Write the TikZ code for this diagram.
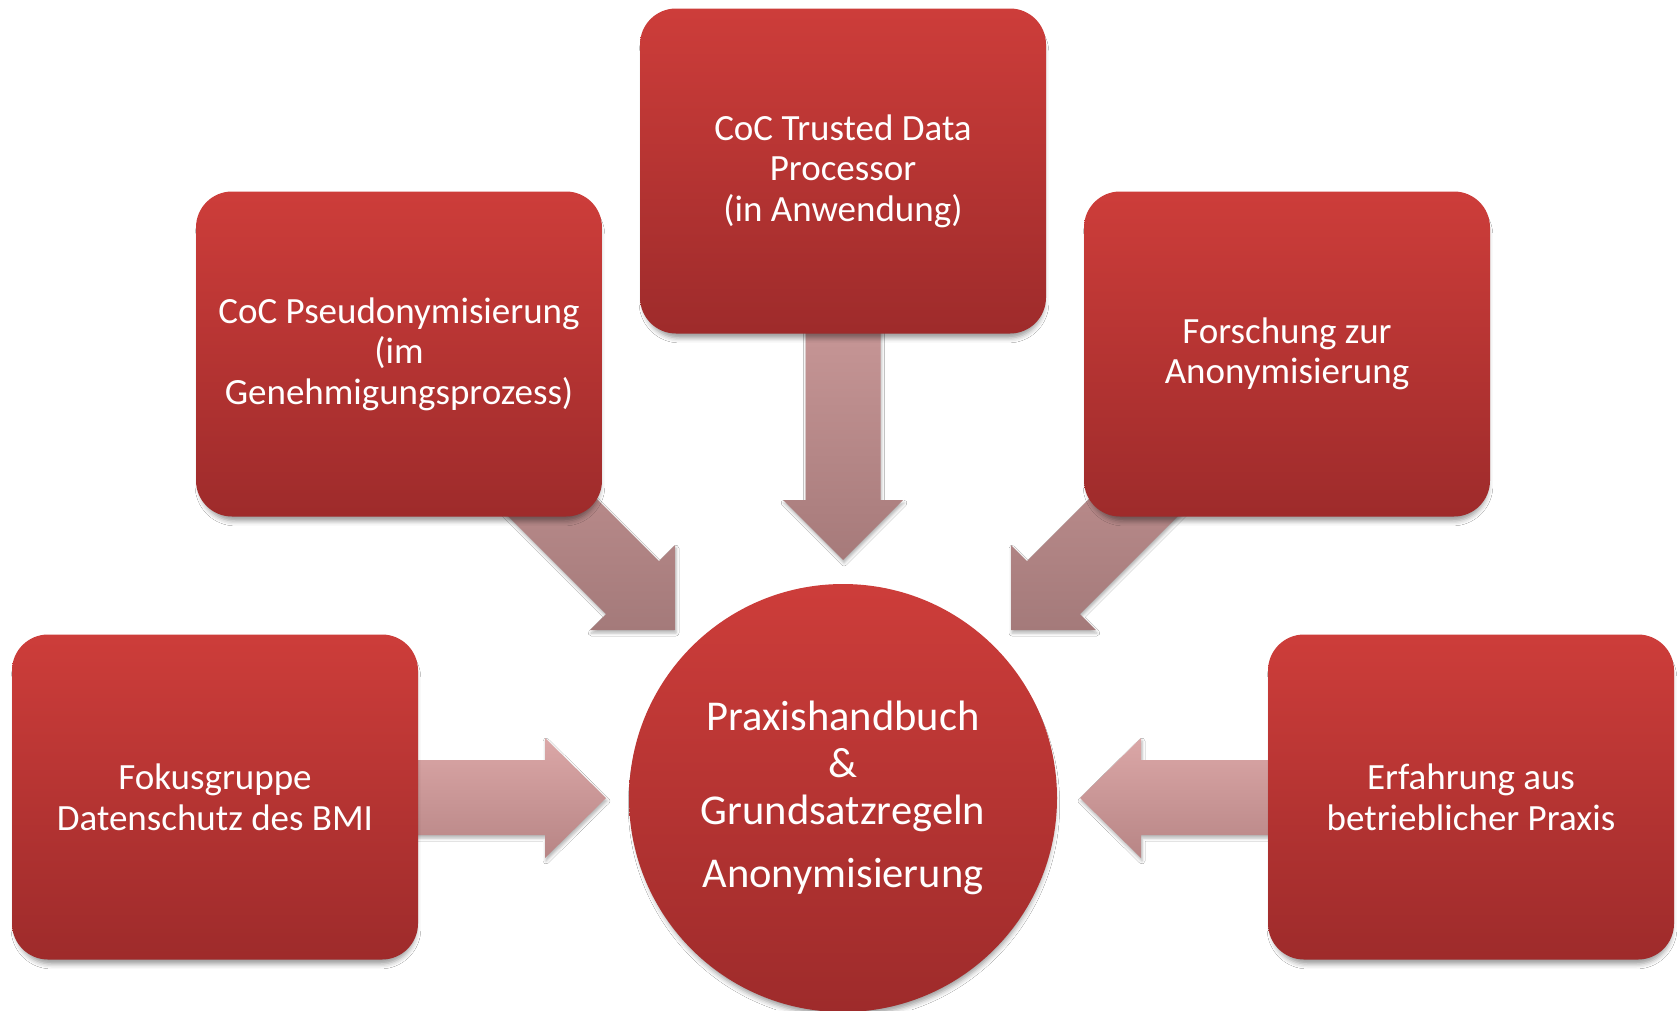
\documentclass[tikz,border=0pt]{standalone}
\usepackage{fontspec}
\setmainfont{Carlito}
\usetikzlibrary{shadows.blur,backgrounds,calc}
\definecolor{boxtop}{RGB}{205,61,58}
\definecolor{boxbot}{RGB}{158,43,43}
\definecolor{vtop}{RGB}{202,153,153}
\definecolor{vbot}{RGB}{166,122,122}
\definecolor{htop}{RGB}{219,167,167}
\definecolor{hbot}{RGB}{183,133,133}
\definecolor{dtop}{RGB}{194,146,146}
\definecolor{dbot}{RGB}{164,122,122}
\begin{document}
\begin{tikzpicture}[x=1pt,y=-1pt,
  boxshadow/.style={blur shadow={shadow xshift=1pt, shadow yshift=-7pt, shadow scale=0.985, shadow blur radius=5pt, shadow opacity=40}},
  box/.style={rounded corners=36pt, minimum width=406pt, minimum height=325pt,
    top color=boxtop, bottom color=boxbot, draw=none, text=white, align=center,
    font=\fontsize{37}{40.6}\selectfont, inner sep=0pt, boxshadow},
  hub/.style={circle, minimum size=428pt, top color=boxtop, bottom color=boxbot,
    draw=none, text=white, align=center, font=\fontsize{42.5}{47}\selectfont, inner sep=0pt, boxshadow},
  arrowshadow/.style={blur shadow={shadow xshift=1pt, shadow yshift=-3pt, shadow blur radius=3pt, shadow opacity=30}},
  varrow/.style={top color=vtop, bottom color=vbot, draw=none, arrowshadow},
  harrow/.style={top color=htop, bottom color=hbot, draw=none, arrowshadow},
  darrow/.style={top color=dtop, bottom color=dbot, draw=none, arrowshadow}]
\useasboundingbox (0,0) rectangle (1677,1010);

\node[box] (trusted) at (843,171) {CoC Trusted Data\\Processor\\(in Anwendung)};
\node[box] (pseudo) at (399,354) {CoC Pseudonymisierung\\(im\\Genehmigungsprozess)};
\node[box] (forsch) at (1287,354) {Forschung zur\\Anonymisierung};
\node[box] (fokus) at (215,797) {Fokusgruppe\\Datenschutz des BMI};
\node[box] (erfahr) at (1471,797) {Erfahrung aus\\betrieblicher Praxis};
\node[hub] (hub) at (843,798) {Praxishandbuch\\\&\\Grundsatzregeln\\[16pt]Anonymisierung};

\begin{pgfonlayer}{background}
\fill[white] (0,0) rectangle (1677,1010);
% vertical arrow from trusted
\path[varrow] (805.5,300) -- (880.5,300) -- (880.5,500) -- (903,500) -- (843,560)
  -- (783,500) -- (805.5,500) -- cycle;
% horizontal arrow from fokus
\path[harrow] (380,760) -- (545,760) -- (545,738) -- (606,798) -- (545,858)
  -- (545,835) -- (380,835) -- cycle;
% horizontal arrow from erfahr
\path[harrow] (1306,760) -- (1141,760) -- (1141,738) -- (1080,798) -- (1141,858)
  -- (1141,835) -- (1306,835) -- cycle;
% diagonal arrow from pseudo
\path[darrow] (517.7,419.7) -- (659.1,561.1) -- (675,545.2) -- (675,630)
  -- (590.2,630) -- (606.1,614.1) -- (464.7,472.7) -- cycle;
% diagonal arrow from forsch
\path[darrow] (1168.3,419.7) -- (1026.9,561.1) -- (1011,545.2) -- (1011,630)
  -- (1095.8,630) -- (1079.9,614.1) -- (1221.3,472.7) -- cycle;
\end{pgfonlayer}
\end{tikzpicture}
\end{document}
